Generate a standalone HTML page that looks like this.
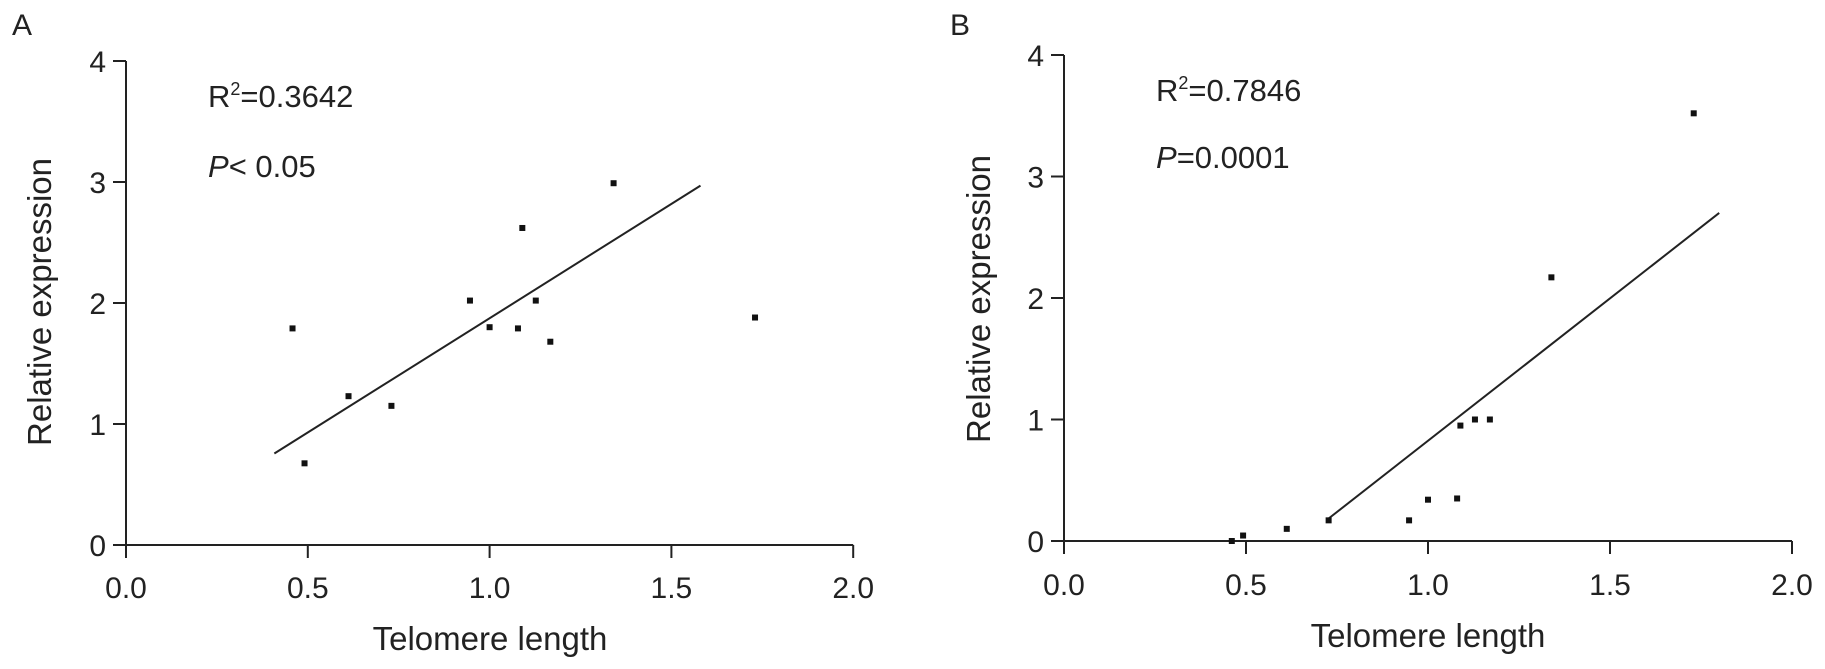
<!DOCTYPE html>
<html><head><meta charset="utf-8"><style>
html,body{margin:0;padding:0;background:#fff;}
svg{display:block;font-family:"Liberation Sans",Arial,sans-serif;}
</style></head><body>
<svg id="chart" width="1825" height="669" viewBox="0 0 1825 669"></svg>
<script>
const xTicks = [0.0, 0.5, 1.0, 1.5, 2.0];
const xTickLabels = ["0.0", "0.5", "1.0", "1.5", "2.0"];
const yTicks = [0, 1, 2, 3, 4];
const yTickLabels = ["0", "1", "2", "3", "4"];
const aX = [0.458, 0.491, 0.612, 0.730, 0.946, 1.000, 1.090, 1.078, 1.127, 1.167, 1.341, 1.730];
const aY = [1.79, 0.675, 1.23, 1.15, 2.02, 1.80, 2.62, 1.79, 2.02, 1.68, 2.99, 1.88];
const aFitX = [0.408, 1.580];
const aFitY = [0.756, 2.97];
const bX = [0.461, 0.492, 0.612, 0.727, 0.948, 1.000, 1.080, 1.089, 1.129, 1.170, 1.339, 1.730];
const bY = [0.00, 0.045, 0.10, 0.17, 0.17, 0.34, 0.35, 0.95, 1.00, 1.00, 2.17, 3.52];
const bFitX = [0.727, 1.80];
const bFitY = [0.185, 2.70];

const NS = "http://www.w3.org/2000/svg";
const svg = document.getElementById('chart');
function mk(tag, attrs, parent){
  const e = document.createElementNS(NS, tag);
  for (const k in attrs) e.setAttribute(k, attrs[k]);
  (parent||svg).appendChild(e);
  return e;
}
function panel(cfg){
  const g = mk('g', {});
  
  
  const sx = v => cfg.x0 + v * cfg.xs;
  const sy = v => cfg.y0 - v * cfg.ys;
  const ax = mk('line', {x1: sx(0), y1: cfg.y0, x2: sx(2), y2: cfg.y0, stroke:'#222', 'stroke-width':2}, g);
  
  
  const ay = mk('line', {x1: cfg.x0, y1: sy(4), x2: cfg.x0, y2: cfg.y0, stroke:'#222', 'stroke-width':2}, g);
  
  
  xTicks.forEach((v,i)=>{
    const t = mk('line', {x1: sx(v), y1: cfg.y0, x2: sx(v), y2: cfg.y0+13, stroke:'#222','stroke-width':2}, g);
    
    
    const l = mk('text', {x: sx(v), y: cfg.tickBase, 'font-size':30, 'text-anchor':'middle', fill:'#222'}, g);
    l.textContent = xTickLabels[i];
    
    
  });
  yTicks.forEach((v,i)=>{
    const t = mk('line', {x1: cfg.x0-13, y1: sy(v), x2: cfg.x0, y2: sy(v), stroke:'#222','stroke-width':2}, g);
    
    
    const l = mk('text', {x: cfg.x0-20, y: sy(v)+11, 'font-size':30, 'text-anchor':'end', fill:'#222'}, g);
    l.textContent = yTickLabels[i];
    
    
  });
  const fit = mk('line', {x1: sx(cfg.fx[0]), y1: sy(cfg.fy[0]), x2: sx(cfg.fx[1]), y2: sy(cfg.fy[1]), stroke:'#222','stroke-width':2}, g);
  
  
  cfg.px.forEach((v,i)=>{
    const p = mk('rect', {x: sx(v)-3, y: sy(cfg.py[i])-3, width:6, height:6, fill:'#111'}, g);
    
    
  });
  const xt = mk('text', {x: cfg.xtX, y: cfg.xtY, 'font-size':33, 'text-anchor':'middle', fill:'#222'}, g);
  xt.textContent = 'Telomere length';
  
  
  const yt = mk('text', {x: 0, y: 0, 'font-size':33, 'text-anchor':'middle', fill:'#222', transform:`translate(${cfg.ytX},${cfg.ytY}) rotate(-90)`}, g);
  yt.textContent = 'Relative expression';
  
  
  const r = mk('text', {x: cfg.rX, y: cfg.rY, 'font-size':31, fill:'#222'}, g);
  r.innerHTML = 'R<tspan font-size="18" dy="-12">2</tspan><tspan dy="12">=' + cfg.r2 + '</tspan>';
  
  
  const p = mk('text', {x: cfg.rX, y: cfg.pY, 'font-size':31, fill:'#222'}, g);
  p.innerHTML = '<tspan font-style="italic">P</tspan>' + cfg.pTxt;
  
  
  const L = mk('text', {x: cfg.lX, y: 35, 'font-size':30, fill:'#222'}, g);
  L.textContent = cfg.letter;
  
  
}
panel({name:'panel-a', letter:'A', lX:12, x0:126, xs:363.6, y0:545, ys:121, px:aX, py:aY, fx:aFitX, fy:aFitY,
  tickBase:598, xtX:490, xtY:650, ytX:51, ytY:302, rX:208, rY:107, pY:177, r2:'0.3642', pTxt:'&lt; 0.05'});
panel({name:'panel-b', letter:'B', lX:950, x0:1064, xs:364, y0:541, ys:121.5, px:bX, py:bY, fx:bFitX, fy:bFitY,
  tickBase:595, xtX:1428, xtY:647, ytX:990, ytY:299, rX:1156, rY:101, pY:168, r2:'0.7846', pTxt:'=0.0001'});
</script>
</body></html>
